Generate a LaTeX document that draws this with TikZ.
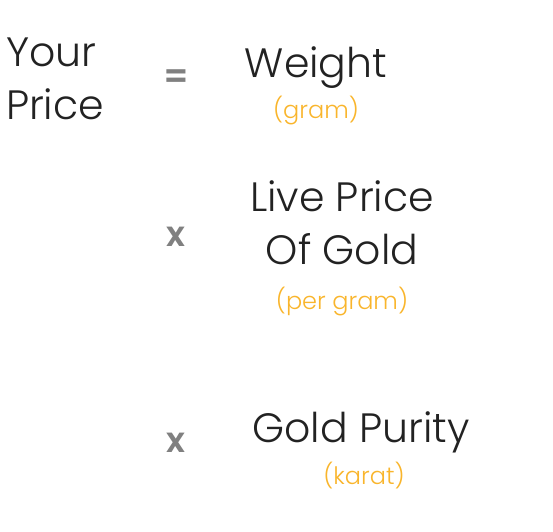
\documentclass[tikz,border=0pt]{standalone}
\usepackage{fontspec}
\setmainfont{Poppins}[UprightFont=* Light, BoldFont=* SemiBold]
\usetikzlibrary{positioning}
\definecolor{ink}{HTML}{222222}
\definecolor{opgrey}{HTML}{808080}
\definecolor{gold}{HTML}{F9B52C}

\begin{document}
\begin{tikzpicture}[
    x=1pt, y=-1pt,
    every node/.style={inner sep=0pt, outer sep=0pt},
    term/.style={text=ink, align=center, font=\fontsize{41}{53}\selectfont},
    unit/.style={text=gold, font=\fontsize{24}{30}\selectfont},
    op/.style={text=opgrey, font=\fontsize{35}{40}\selectfont\bfseries}
]
    \useasboundingbox (0,0) rectangle (553,531);

    \node[term, align=left, anchor=north west] (price) at (6,38) {Your\\Price};
    \node[op, anchor=base] (eq) at (176,88) {=};
    \node[term, anchor=base] (weight) at (316,77) {Weight};
    \node[unit, anchor=base] (gram) at (316,118) {(gram)};

    \node[op, anchor=base] (times1) at (176,246) {x};
    \node[term, anchor=north] (live) at (342,181) {Live Price\\Of Gold};
    \node[unit, anchor=base] (pergram) at (342,309) {(per gram)};

    \node[op, anchor=base] (times2) at (176,452) {x};
    \node[term, anchor=base] (purity) at (361,442) {Gold Purity};
    \node[unit, anchor=base] (karat) at (364,484) {(karat)};
\end{tikzpicture}
\end{document}
